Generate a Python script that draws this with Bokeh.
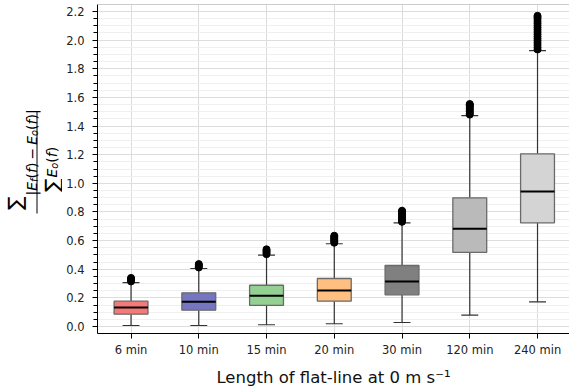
import math
from bokeh.plotting import figure
from bokeh.layouts import row
from bokeh.models import Range1d, FixedTicker, SingleIntervalTicker, PrintfTickFormatter, Span
from bokeh.core.properties import value
from bokeh.embed import file_html
from bokeh.resources import INLINE

# ---------------- data ----------------
categories = ["6 min", "10 min", "15 min", "20 min", "30 min", "120 min", "240 min"]
q1 = [0.086, 0.114, 0.147, 0.177, 0.221, 0.517, 0.724]
median = [0.133, 0.172, 0.214, 0.251, 0.314, 0.682, 0.943]
q3 = [0.177, 0.235, 0.288, 0.335, 0.426, 0.899, 1.206]
whisker_low = [0.007, 0.007, 0.012, 0.019, 0.028, 0.079, 0.172]
whisker_high = [0.307, 0.405, 0.498, 0.578, 0.724, 1.473, 1.927]
outliers = [
    [0.315, 0.324, 0.332, 0.339],
    [0.412, 0.421, 0.429, 0.436],
    [0.505, 0.514, 0.522, 0.531, 0.539],
    [0.585, 0.594, 0.603, 0.611, 0.619, 0.627, 0.634],
    [0.731, 0.741, 0.752, 0.763, 0.774, 0.785, 0.796, 0.803, 0.809],
    [1.480, 1.490, 1.501, 1.512, 1.522, 1.533, 1.543, 1.549, 1.554],
    [1.935, 1.950, 1.966, 1.981, 1.996, 2.011, 2.026, 2.042, 2.057, 2.072,
     2.087, 2.102, 2.118, 2.133, 2.148, 2.160, 2.170],
]
box_colors = ["#f47a7a", "#7676c0", "#93d193", "#ffbf80", "#808080", "#bababa", "#d4d4d4"]
x_title = "Length of flat-line at 0 m s\u207b\u00b9"

# ---------------- layout ----------------
W, H = 569, 390
LW = 62
FT, FB = 4, 333      # frame top / bottom in page pixels
FONT = "DejaVu Sans"

xs = list(range(len(categories)))

p = figure(width=W - LW, height=H,
           x_range=Range1d(-0.495, 6.472), y_range=Range1d(-0.049, 2.249),
           output_backend="svg", toolbar_location=None,
           min_border_left=97 - LW, min_border_right=0, min_border_top=FT, min_border_bottom=H - FB)
p.outline_line_color = None

wl = dict(line_color="#333333", line_width=1.2)
p.segment(x0=xs, y0=q3, x1=xs, y1=whisker_high, **wl)
p.segment(x0=xs, y0=q1, x1=xs, y1=whisker_low, **wl)
cap = 0.125
p.segment(x0=[x - cap for x in xs], y0=whisker_high, x1=[x + cap for x in xs], y1=whisker_high, **wl)
p.segment(x0=[x - cap for x in xs], y0=whisker_low, x1=[x + cap for x in xs], y1=whisker_low, **wl)
p.vbar(x=xs, width=0.5, bottom=q1, top=q3, fill_color=box_colors, line_color="#6a6a6a", line_width=1.3)
p.segment(x0=[x - 0.25 for x in xs], y0=median, x1=[x + 0.25 for x in xs], y1=median,
          line_color="black", line_width=2)
ox, oy = [], []
for x, vals in zip(xs, outliers):
    for v in vals:
        ox.append(x)
        oy.append(v)
p.scatter(ox, oy, size=7, fill_color="black", line_color="black", line_width=1)

p.add_layout(Span(location=2.249, dimension="width", line_color="#999999", line_width=1))

p.xaxis.ticker = FixedTicker(ticks=xs)
p.xaxis.major_label_overrides = {i: c for i, c in enumerate(categories)}
p.xaxis.axis_label = x_title
p.xaxis.axis_label_text_font = FONT
p.xaxis.axis_label_text_font_style = "normal"
p.xaxis.axis_label_text_font_size = "16.5px"
p.xaxis.axis_label_text_color = "#111111"
p.xaxis.axis_label_standoff = 8
p.xaxis.major_label_text_font = FONT
p.xaxis.major_label_text_font_size = "11.5px"
p.xaxis.major_label_text_color = "#222222"
p.xaxis.major_label_standoff = 4
p.xaxis.major_tick_out = 5
p.xaxis.major_tick_in = 0
p.xaxis.minor_tick_line_color = None
p.xaxis.axis_line_color = "black"
p.xaxis.major_tick_line_color = "black"

p.yaxis.ticker = SingleIntervalTicker(interval=0.2, num_minor_ticks=4)
p.yaxis.formatter = PrintfTickFormatter(format="%.1f")
p.yaxis.major_label_text_font = FONT
p.yaxis.major_label_text_font_size = "11.5px"
p.yaxis.major_label_text_color = "#222222"
p.yaxis.major_label_standoff = 8
p.yaxis.major_tick_out = 5
p.yaxis.major_tick_in = 0
p.yaxis.minor_tick_out = 4
p.yaxis.minor_tick_in = 0
p.yaxis.axis_line_color = "black"
p.yaxis.major_tick_line_color = "black"
p.yaxis.minor_tick_line_color = "black"

p.xgrid.ticker = FixedTicker(ticks=xs)
p.xgrid.grid_line_color = "#dcdcdc"
p.ygrid.grid_line_color = "#dddddd"
p.ygrid.minor_grid_line_color = "#efefef"

# ---------------- y label (fraction) in a narrow side panel ----------------
# the row aligns this panel's frame with the main frame (page rows FT..FB),
# so map page pixels 1:1 by giving it the matching range
lab = figure(width=LW, height=H, x_range=Range1d(0, LW), y_range=Range1d(H - FB, H - FT),
             output_backend="svg", toolbar_location=None, min_border=0,
             x_axis_type=None, y_axis_type=None)
lab.outline_line_color = None
lab.grid.visible = False

WID = {"|": 0.337, "E": 0.632, "f": 0.352, "(": 0.390, ")": 0.390, "\u2212": 0.838, "o": 0.612}


def put(txt, cx, cy, fs, ital=False, align="left", baseline="alphabetic"):
    lab.text(x=[cx], y=[H - cy], text=[txt], angle=math.pi / 2,
             text_align=align, text_baseline=baseline,
             text_font=value(FONT), text_font_style="italic" if ital else "normal",
             text_font_size=f"{fs}px", text_color="black")


def run(pieces, cy0, bx, fs):
    cy = cy0
    for txt, ital, scale, shift in pieces:
        if txt is None:
            cy -= scale * fs
            continue
        f = fs * scale
        put(txt, bx + shift, cy, f, ital)
        cy -= sum(WID[ch] for ch in txt) * f
    return cy


FS = 14
num = [("|", 0, 1, 0), ("E", 1, 1, 0), ("f", 1, 0.7, 3), ("(", 0, 1, 0), ("f", 1, 1, 0), (")", 0, 1, 0),
       (None, 0, 0.22, 0), ("\u2212", 0, 1, 0), (None, 0, 0.22, 0),
       ("E", 1, 1, 0), ("o", 1, 0.7, 3), ("(", 0, 1, 0), ("f", 1, 1, 0), (")", 0, 1, 0), ("|", 0, 1, 0)]
run(num, 195, 31, FS)
put("\u2211", 14, 196, 20, align="right", baseline="middle")

den = [("E", 1, 1, 0), ("o", 1, 0.7, 3), ("(", 0, 1, 0), ("f", 1, 1, 0), (")", 0, 1, 0)]
run(den, 177, 51, FS)
put("\u2211", 51, 178, 20, align="right", baseline="alphabetic")

lab.segment(x0=[36.5], y0=[H - 213], x1=[36.5], y1=[H - 111], line_color="black", line_width=1)

layout = row(lab, p, spacing=0)
open("out.html", "w").write(file_html(layout, INLINE))
